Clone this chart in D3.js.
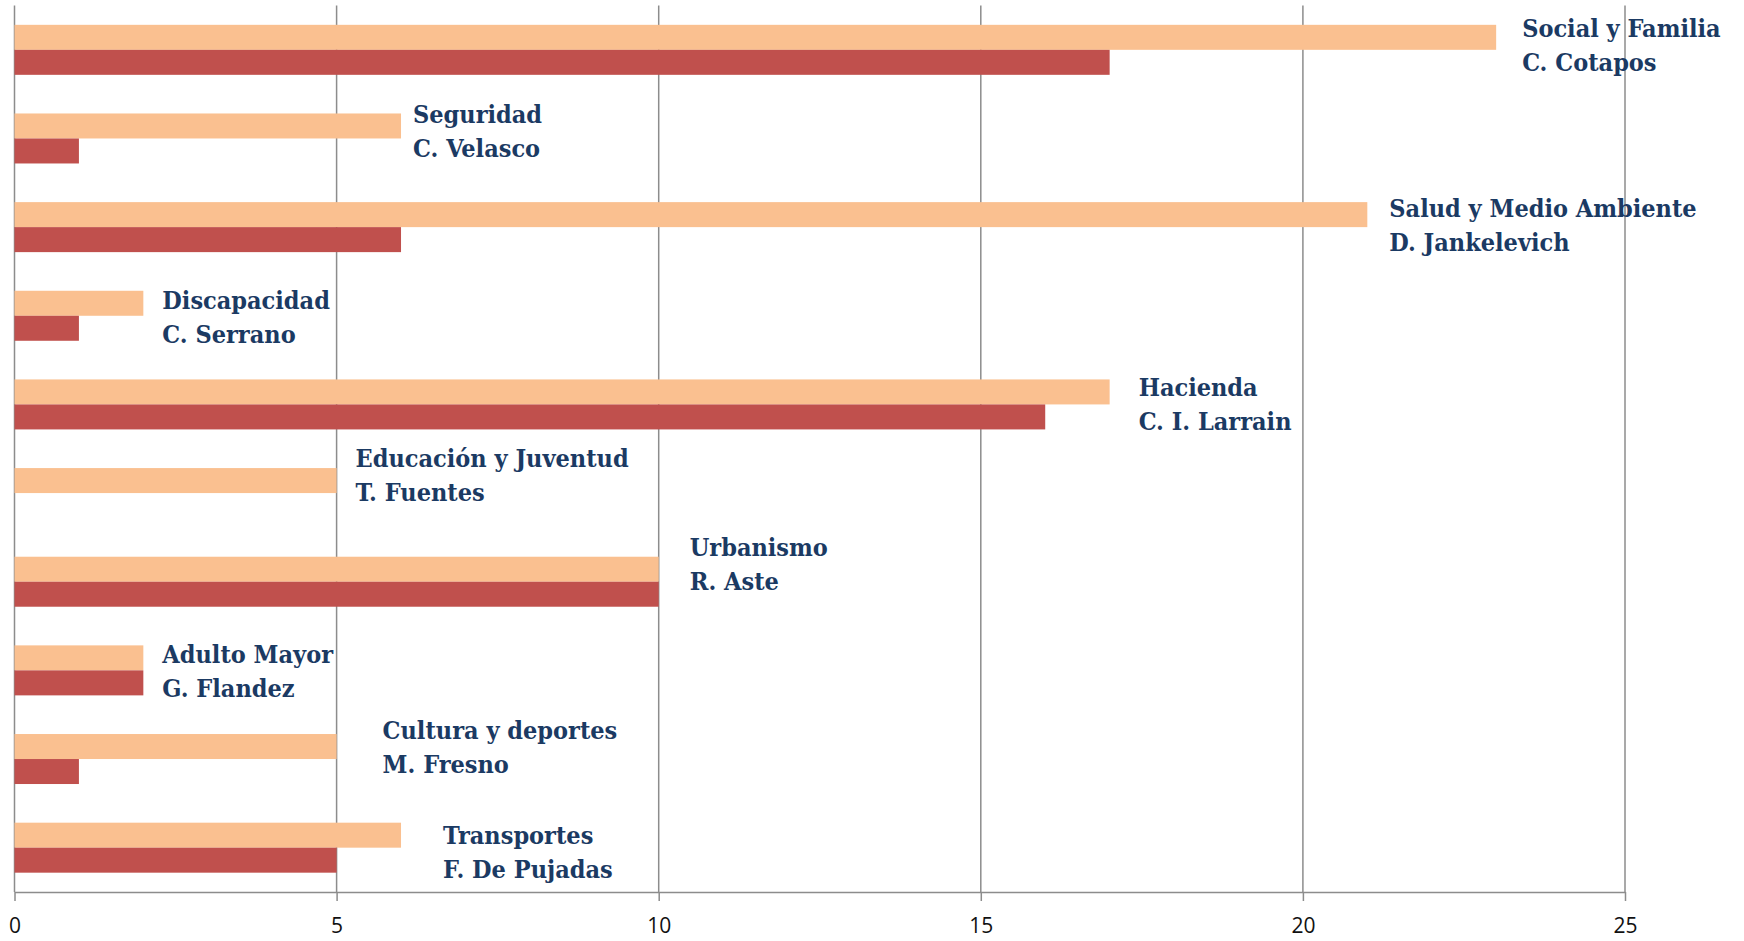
<!DOCTYPE html>
<html>
<head lang="es">
    <meta charset="UTF-8">
    <script type="text/javascript" src="https://cdn.jsdelivr.net/npm/d3@7/dist/d3.min.js"></script>
    <title></title>
</head>
<body style="margin:0;background:#fff;">
<style>
    .grid line{ stroke:#8c8c8c; stroke-width:1.5; }
    .axis text{ font-family:"Open Sans", sans-serif; font-size:21px; fill:#111; }
    .lbl{ font-family:"DejaVu Serif", serif; font-stretch:condensed; font-weight:bold; font-size:25px; fill:#1b3a63; }
</style>
<script type="text/javascript">
    // comisiones (de arriba hacia abajo)
    var comisiones = ["Social y Familia", "Seguridad", "Salud y Medio Ambiente", "Discapacidad", "Hacienda",
                      "Educación y Juventud", "Urbanismo", "Adulto Mayor", "Cultura y deportes", "Transportes"];
    var presidentes = ["C. Cotapos", "C. Velasco", "D. Jankelevich", "C. Serrano", "C. I. Larrain",
                       "T. Fuentes", "R. Aste", "G. Flandez", "M. Fresno", "F. De Pujadas"];
    var serieClara = [23, 6, 21, 2, 17, 5, 10, 2, 5, 6];
    var serieOscura = [17, 1, 6, 1, 16, 0, 10, 2, 1, 5];
    var ticks = [0, 5, 10, 15, 20, 25];

    // ajuste fino de las etiquetas (px)
    var lblDx = [26, 12, 22, 19, 29, 19, 31, 19, 46, 42];
    var lblDy = [-5, -7, -2, 1, 0, -18, -18, 1, -12, 4];

    var w = 1744, h = 941;
    var mLeft = 14.5, mRight = 1625, mTop = 5.5, mBottom = 892;

    var svg = d3.select("body").append("svg")
            .attr("width", w)
            .attr("height", h);

    var x = d3.scaleLinear().domain([0, 25]).range([mLeft, mRight]);
    var y = d3.scaleBand().domain(comisiones).range([mTop, mBottom])
            .paddingInner(0.436).paddingOuter(0.218);
    var y2 = d3.scaleBand().domain(["clara", "oscura"]).range([0, y.bandwidth()]);

    // lineas verticales
    svg.append("g").attr("class", "grid")
        .selectAll("line").data(ticks).enter().append("line")
        .attr("x1", function(d){ return x(d); })
        .attr("x2", function(d){ return x(d); })
        .attr("y1", mTop)
        .attr("y2", mBottom);

    // eje x
    var ax = svg.append("g").attr("class", "axis")
        .attr("transform", "translate(0," + mBottom + ")")
        .call(d3.axisBottom(x).tickValues(ticks).tickSize(9).tickPadding(17).tickSizeOuter(0));
    ax.select(".domain").attr("stroke", "#8c8c8c").attr("stroke-width", 1.5);
    ax.selectAll(".tick line").attr("stroke", "#8c8c8c").attr("stroke-width", 1.5);

    // barras
    var g = svg.append("g");
    g.selectAll("rect.clara").data(serieClara).enter().append("rect")
        .attr("x", x(0))
        .attr("y", function(d, i){ return y(comisiones[i]) + y2("clara"); })
        .attr("width", function(d){ return x(d) - x(0); })
        .attr("height", y2.bandwidth())
        .attr("fill", "#fac090");
    g.selectAll("rect.oscura").data(serieOscura).enter().append("rect")
        .attr("x", x(0))
        .attr("y", function(d, i){ return y(comisiones[i]) + y2("oscura"); })
        .attr("width", function(d){ return x(d) - x(0); })
        .attr("height", y2.bandwidth())
        .attr("fill", "#c0504d");

    // etiquetas
    for (var i = 0; i < comisiones.length; i++) {
        var mx = Math.max(serieClara[i], serieOscura[i]);
        var cy = y(comisiones[i]) + y.bandwidth() / 2 + lblDy[i];
        var t = svg.append("text").attr("class", "lbl")
            .attr("x", x(mx) + lblDx[i])
            .attr("y", cy - 8);
        t.append("tspan").attr("x", x(mx) + lblDx[i]).text(comisiones[i]);
        t.append("tspan").attr("x", x(mx) + lblDx[i]).attr("dy", 34).text(presidentes[i]);
    }
</script>
</body>
</html>
